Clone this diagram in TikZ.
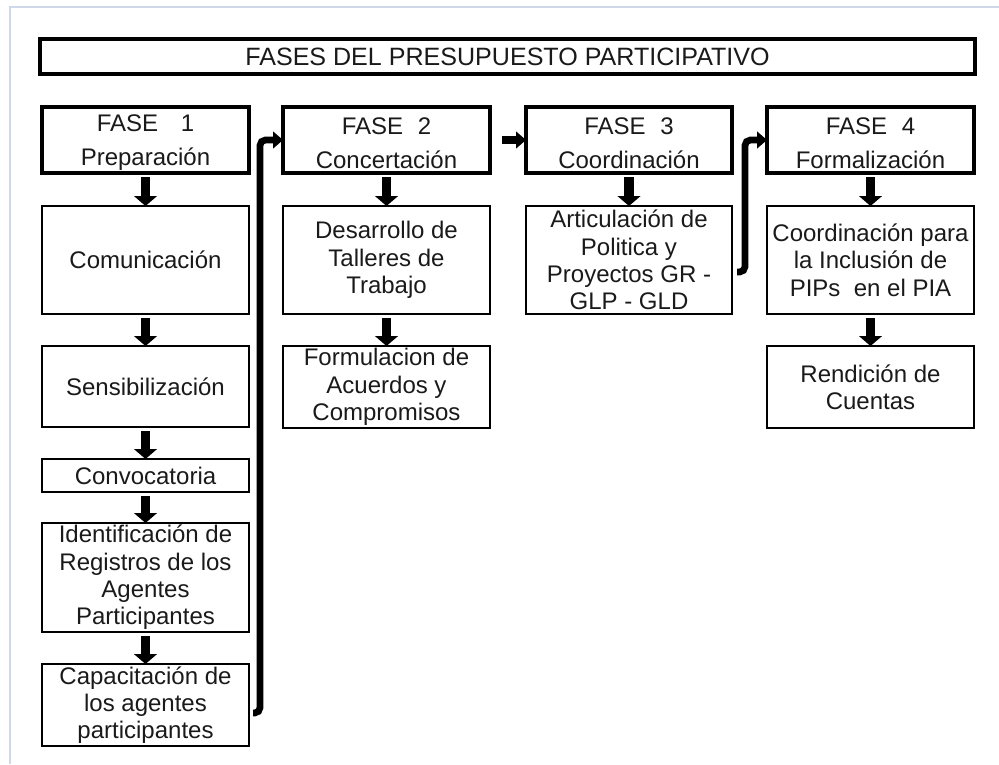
\documentclass[tikz,border=0pt]{standalone}
\usepackage{fontspec}
\setmainfont{Liberation Sans}
\usetikzlibrary{arrows.meta,calc}
\definecolor{framecol}{HTML}{CFD8E8}
\definecolor{txt}{HTML}{1A1A1A}
\newcommand\boxat[7]{\node[#2, minimum width={(#5-#3)*0.75pt}, minimum height={(#6-#4)*0.75pt}] (#1) at ({(#3+#5)/2},{(#4+#6)/2}) {#7};}
\newcommand\phtxt[3]{\rule{0pt}{17pt}FASE\hspace{#1}#2\\[5pt]#3}
\begin{document}
\begin{tikzpicture}[x=0.75pt,y=-0.75pt,
  every node/.style={font=\fontsize{18}{20.5}\selectfont, text=txt, align=center, inner sep=0pt, outer sep=0pt},
  phase/.style={draw, line width=2.3pt},
  item/.style={draw, line width=1.2pt},
  titlebox/.style={draw, line width=2.3pt},
  varrow/.style={line width=6.8pt, -{Triangle[width=17pt,length=7.5pt]}, shorten <=3pt},
  conn/.style={line width=5pt, rounded corners=4pt, -{Triangle[width=12.5pt,length=7.5pt]}},
  harrow/.style={line width=6pt, -{Triangle[width=12.5pt,length=7.5pt]}, shorten <=9pt},
]
\useasboundingbox[fill=white] (0,0) rectangle (999,764);
\draw[framecol, line width=1.5pt] (10,764) -- (10,7) -- (999,7);

\boxat{title}{titlebox}{40}{39}{975}{74}{\fontsize{18.8}{20}\selectfont FASES DEL PRESUPUESTO PARTICIPATIVO}

% phase headers
\boxat{f1}{phase}{42}{107}{249}{173}{\phtxt{17pt}{1}{Preparación}}
\boxat{f2}{phase}{283}{107}{490}{173}{\phtxt{11pt}{2}{Concertación}}
\boxat{f3}{phase}{526}{107}{732}{173}{\phtxt{11pt}{3}{Coordinación}}
\boxat{f4}{phase}{767}{107}{974}{173}{\phtxt{11pt}{4}{Formalización}}

% column 1
\boxat{com}{item}{42}{206}{249}{314}{Comunicación}
\boxat{sens}{item}{42}{346}{249}{427}{Sensibilización}
\boxat{conv}{item}{42}{459}{249}{492}{Convocatoria}
\boxat{ident}{item}{42}{523}{249}{632}{Identificación de\\Registros de los\\Agentes\\Participantes}
\boxat{capac}{item}{42}{664}{249}{746}{Capacitación de\\los agentes\\participantes}

% column 2
\boxat{desa}{item}{283}{206}{490}{314}{Desarrollo de\\Talleres de\\Trabajo}
\boxat{form}{item}{283}{346}{490}{428}{Formulacion de\\Acuerdos y\\Compromisos}

% column 3
\boxat{arti}{item}{526}{206}{732}{314}{Articulación de\\Politica y\\Proyectos GR -\\GLP - GLD}

% column 4
\boxat{coord}{item}{767}{206}{974}{314}{Coordinación para\\la Inclusión de\\PIPs\ \ en el PIA}
\boxat{rend}{item}{767}{346}{974}{428}{Rendición de\\Cuentas}

% vertical arrows
\draw[varrow] (f1) -- (com);
\draw[varrow] (com) -- (sens);
\draw[varrow] (sens) -- (conv);
\draw[varrow] (conv) -- (ident);
\draw[varrow] (ident) -- (capac);
\draw[varrow] (f2) -- (desa);
\draw[varrow] (desa) -- (form);
\draw[varrow] (f3) -- (arti);
\draw[varrow] (f4) -- (coord);
\draw[varrow] (coord) -- (rend);

% connectors between phases
\draw[conn] ($(capac.east)+(4,8)$) -| ($(f2.west)+(-23,0)$) -- (f2.west);
\draw[harrow] (f2.east) -- (f3.west);
\draw[conn] ($(arti.east)+(5,12)$) -| ($(f4.west)+(-22,0)$) -- (f4.west);
\end{tikzpicture}
\end{document}
